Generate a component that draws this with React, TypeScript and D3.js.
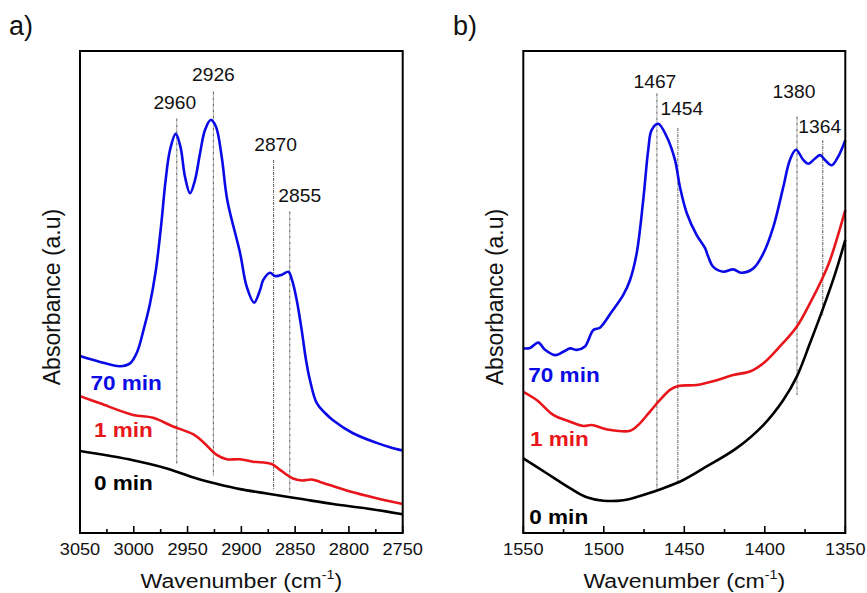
import React from "react";
import * as d3 from "d3";

type Pt = [number, number];

const FONT = "Arial, 'Liberation Sans', sans-serif";
const SX = 1.1;
const BLUE = "#0a0ae6";
const RED = "#e8161b";
const BLACK = "#000000";

// ---------- Panel a (C-H stretching region) ----------
const a70: Pt[] = [
  [3050, 0.367], [3031.4, 0.355], [3012.8, 0.346], [3003.5, 0.352], [2997.0, 0.375],
  [2990.5, 0.425], [2985.0, 0.475], [2979.5, 0.545], [2974.5, 0.64], [2970.5, 0.73],
  [2966.3, 0.795], [2961.0, 0.828], [2956.6, 0.801], [2952.4, 0.739], [2947.7, 0.705],
  [2943.1, 0.732], [2938.4, 0.788], [2933.8, 0.836], [2928.5, 0.857], [2923.6, 0.843],
  [2918.3, 0.781], [2913.1, 0.691], [2901.2, 0.581], [2895.0, 0.511], [2888.2, 0.478],
  [2882.6, 0.504], [2879.6, 0.525], [2873.4, 0.54], [2868.7, 0.533], [2862.2, 0.536],
  [2856.3, 0.542], [2852.9, 0.525], [2848.5, 0.483], [2843.9, 0.421], [2839.9, 0.359],
  [2836.2, 0.317], [2830.0, 0.27], [2822.2, 0.249], [2814.8, 0.234], [2796.2, 0.207],
  [2774.2, 0.187], [2761.8, 0.178], [2750, 0.171],
];
const a1: Pt[] = [
  [3050, 0.284], [3031.4, 0.269], [3000.7, 0.245], [2982.1, 0.239], [2963.5, 0.221],
  [2944.9, 0.205], [2935.6, 0.189], [2922.9, 0.162], [2913.6, 0.153], [2901.2, 0.153],
  [2889.2, 0.148], [2871.8, 0.143], [2864.1, 0.131], [2852.0, 0.113], [2843.9, 0.109],
  [2834.6, 0.111], [2826.9, 0.106], [2798.9, 0.086], [2774.2, 0.072], [2750, 0.06],
];
const a0: Pt[] = [
  [3050, 0.17], [3000.7, 0.151], [2969.4, 0.134], [2938.4, 0.111], [2922.9, 0.102],
  [2901.2, 0.091], [2876.4, 0.082], [2845.5, 0.071], [2814.8, 0.06], [2783.5, 0.051],
  [2750, 0.039],
];
const peaksA = [
  { wn: 2960, top: 0.86, bottom: 0.143, labelY: 0.879, dx: -2 },
  { wn: 2926, top: 0.916, bottom: 0.118, labelY: 0.938, dx: 0 },
  { wn: 2870, top: 0.774, bottom: 0.089, labelY: 0.793, dx: 2 },
  { wn: 2855, top: 0.667, bottom: 0.083, labelY: 0.687, dx: 10 },
];
const majorsA = [3050, 3000, 2950, 2900, 2850, 2800, 2750];
const minorsA = [3025, 2975, 2925, 2875, 2825, 2775];

// ---------- Panel b (C-H bending region) ----------
const b70: Pt[] = [
  [1550, 0.383], [1545.8, 0.384], [1540.7, 0.395], [1536.5, 0.38], [1530.3, 0.369],
  [1525.2, 0.376], [1521.0, 0.383], [1516.8, 0.38], [1511.7, 0.387], [1506.5, 0.421],
  [1502.4, 0.426], [1495.1, 0.459], [1487.9, 0.494], [1483.7, 0.525], [1479.6, 0.58],
  [1475.5, 0.691], [1472.4, 0.795], [1470.3, 0.836], [1466.2, 0.849], [1460.9, 0.822],
  [1455.8, 0.774], [1452.7, 0.718], [1448.5, 0.664], [1442.3, 0.618], [1437.1, 0.591],
  [1435.1, 0.573], [1432.0, 0.552], [1425.8, 0.542], [1419.6, 0.547], [1414.4, 0.54],
  [1407.1, 0.549], [1400.9, 0.58], [1394.7, 0.635], [1388.5, 0.718], [1384.4, 0.774],
  [1380.6, 0.795], [1376.1, 0.774], [1373.0, 0.766], [1368.8, 0.777], [1365.7, 0.784],
  [1362.6, 0.774], [1358.5, 0.763], [1354.4, 0.781], [1350, 0.815],
];
const b1: Pt[] = [
  [1550, 0.293], [1541.7, 0.276], [1531.4, 0.245], [1521.0, 0.231], [1512.7, 0.222],
  [1507.5, 0.224], [1500.3, 0.217], [1492.0, 0.212], [1483.7, 0.212], [1478.6, 0.224],
  [1471.3, 0.252], [1465.1, 0.276], [1458.9, 0.297], [1453.7, 0.305], [1442.3, 0.307],
  [1429.9, 0.317], [1419.6, 0.328], [1409.2, 0.335], [1400.9, 0.352], [1390.6, 0.387],
  [1380.2, 0.428], [1371.9, 0.477], [1364.7, 0.525], [1359.5, 0.566], [1350, 0.67],
];
const b0: Pt[] = [
  [1550, 0.155], [1535.5, 0.124], [1521.0, 0.093], [1510.6, 0.074], [1500.3, 0.067],
  [1487.9, 0.068], [1475.5, 0.079], [1463.0, 0.093], [1450.6, 0.11], [1436.1, 0.138],
  [1417.5, 0.176], [1400.9, 0.224], [1388.5, 0.276], [1380.2, 0.324], [1371.9, 0.394],
  [1363.7, 0.467], [1356.4, 0.537], [1350, 0.608],
];
const peaksB = [
  { wn: 1467, top: 0.912, bottom: 0.089, labelY: 0.923, dx: -2 },
  { wn: 1454, top: 0.84, bottom: 0.104, labelY: 0.867, dx: 4 },
  { wn: 1380, top: 0.864, bottom: 0.286, labelY: 0.902, dx: -3 },
  { wn: 1364, top: 0.815, bottom: 0.452, labelY: 0.83, dx: -3 },
];
const majorsB = [1550, 1500, 1450, 1400, 1350];
const minorsB = [1525, 1475, 1425, 1375];

const seriesNames = ["70 min", "1 min", "0 min"];
const seriesColors = [BLUE, RED, BLACK];

function HText({ x, y, size, anchor = "start", weight = "normal", fill = "#000", children }: any) {
  return (
    <g transform={`translate(${x},${y}) scale(${SX},1)`}>
      <text x={0} y={0} fontSize={size} textAnchor={anchor} fontWeight={weight} fill={fill} fontFamily={FONT}>
        {children}
      </text>
    </g>
  );
}

function Panel({ left, right, top, bottom, domain, series, peaks, majors, minors, legends, tag, tagX, yTitleX }: any) {
  const x = d3.scaleLinear().domain(domain).range([left, right]);
  const y = d3.scaleLinear().domain([0, 1]).range([bottom, top]);
  const line = d3
    .line<Pt>()
    .x((d) => x(d[0]))
    .y((d) => y(d[1]))
    .curve(d3.curveCatmullRom.alpha(0.5));
  const cx = (left + right) / 2;
  const cy = (top + bottom) / 2;
  return (
    <g>
      {peaks.map((p: any) => (
        <line
          key={"pl" + p.wn}
          x1={x(p.wn)}
          x2={x(p.wn)}
          y1={y(p.top)}
          y2={y(p.bottom)}
          stroke="#444"
          strokeWidth={0.9}
          strokeDasharray="3,1,1,1"
        />
      ))}
      {series.map((s: Pt[], i: number) => (
        <path key={"s" + i} d={line(s) || ""} fill="none" stroke={seriesColors[i]} strokeWidth={2.6} strokeLinejoin="round" />
      ))}
      {peaks.map((p: any) => (
        <HText key={"pt" + p.wn} x={x(p.wn) + p.dx} y={y(p.labelY)} size={17.5} anchor="middle" fill="#111">
          {String(p.wn)}
        </HText>
      ))}
      {legends.map((l: any, i: number) => (
        <HText key={"lg" + i} x={left + l.dx} y={y(l.v)} size={20.5} weight="bold" fill={seriesColors[i]}>
          {seriesNames[i]}
        </HText>
      ))}
      <rect x={left} y={top} width={right - left} height={bottom - top} fill="none" stroke="#000" strokeWidth={2} />
      {majors.map((t: number) => (
        <line key={"M" + t} x1={x(t)} x2={x(t)} y1={bottom} y2={bottom - 7} stroke="#000" strokeWidth={1.6} />
      ))}
      {minors.map((t: number) => (
        <line key={"m" + t} x1={x(t)} x2={x(t)} y1={bottom} y2={bottom - 4} stroke="#000" strokeWidth={1.6} />
      ))}
      {majors.map((t: number) => (
        <HText key={"tl" + t} x={x(t)} y={555} size={16.5} anchor="middle" fill="#111">
          {String(t)}
        </HText>
      ))}
      <g transform={`translate(${cx},588) scale(${SX},1)`}>
        <text x={0} y={0} fontSize={21} textAnchor="middle" fontFamily={FONT} fill="#111">
          Wavenumber (cm
          <tspan fontSize={13} dy={-9}>-1</tspan>
          <tspan dy={9}>)</tspan>
        </text>
      </g>
      <text
        transform={`translate(${yTitleX},${cy + 5}) rotate(-90)`}
        fontSize={23}
        textAnchor="middle"
        fontFamily={FONT}
        fill="#111"
      >
        Absorbance (a.u)
      </text>
      <text x={tagX} y={35} fontSize={27} fontFamily={FONT} fill="#111">
        {tag}
      </text>
    </g>
  );
}

export default function App() {
  return (
    <svg
      width={867}
      height={593}
      viewBox="0 0 867 593"
      style={{ position: "absolute", left: 0, top: 0, background: "#fff" }}
    >
      <rect x={0} y={0} width={867} height={593} fill="#fff" />
      <Panel
        left={80}
        right={402.7}
        top={51}
        bottom={533}
        domain={[3050, 2750]}
        series={[a70, a1, a0]}
        peaks={peaksA}
        majors={majorsA}
        minors={minorsA}
        legends={[
          { dx: 10.5, v: 0.297 },
          { dx: 14, v: 0.199 },
          { dx: 14, v: 0.09 },
        ]}
        tag="a)"
        tagX={9}
        yTitleX={60}
      />
      <Panel
        left={523.3}
        right={845.3}
        top={51}
        bottom={533}
        domain={[1550, 1350]}
        series={[b70, b1, b0]}
        peaks={peaksB}
        majors={majorsB}
        minors={minorsB}
        legends={[
          { dx: 5, v: 0.314 },
          { dx: 6.7, v: 0.181 },
          { dx: 6, v: 0.019 },
        ]}
        tag="b)"
        tagX={453}
        yTitleX={503}
      />
    </svg>
  );
}
